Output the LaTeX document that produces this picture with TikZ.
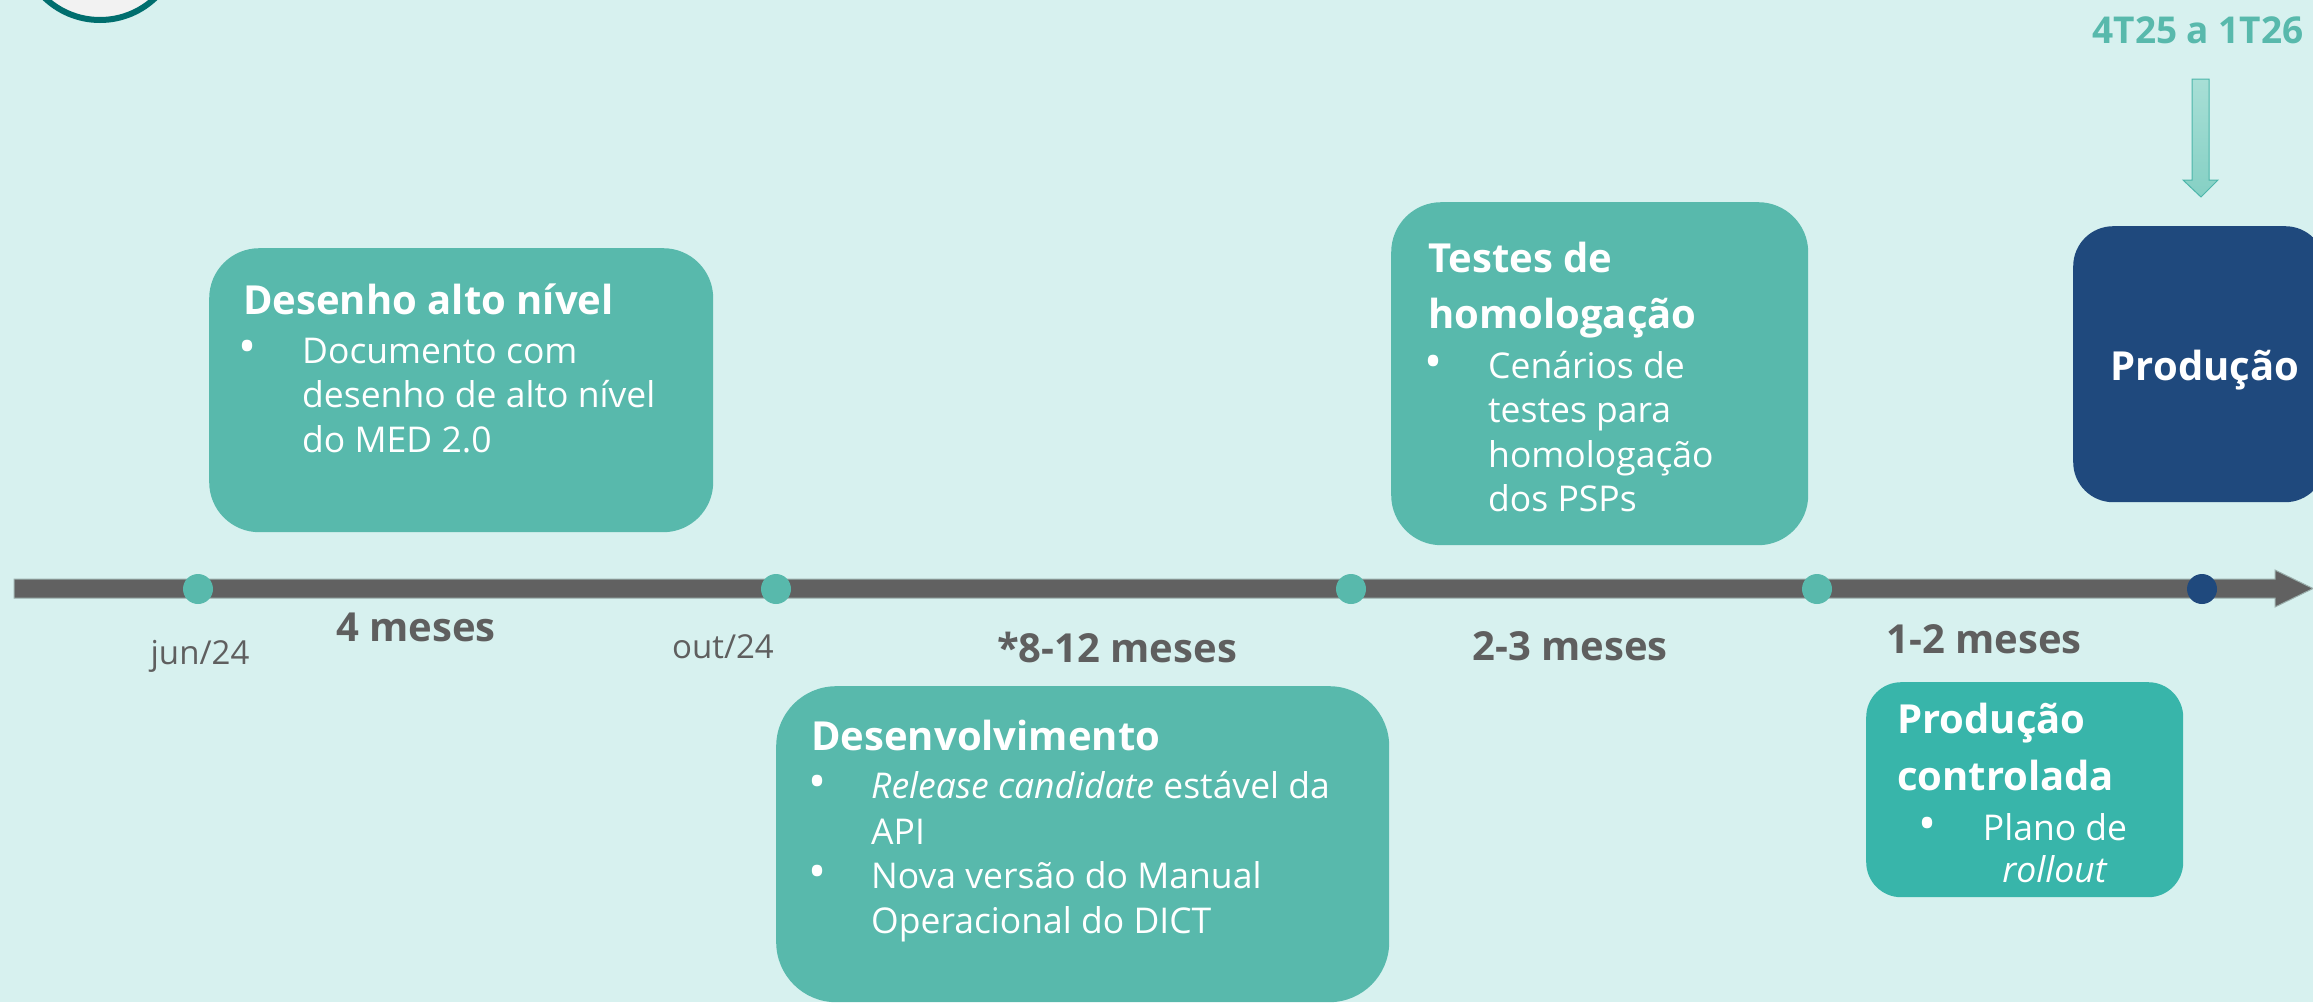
\documentclass[tikz,border=0pt]{standalone}
\usepackage{graphicx}
\usepackage{fontspec}
\setmainfont{Open Sans}
\definecolor{bgc}{HTML}{D7F1EF}
\definecolor{tealbox}{HTML}{58B9AC}
\definecolor{tealdark}{HTML}{38B5AA}
\definecolor{navy}{HTML}{1F497D}
\definecolor{graytxt}{HTML}{5F5F5F}
\definecolor{barc}{HTML}{616161}
\definecolor{baredge}{HTML}{9AAFAC}
\definecolor{ringc}{HTML}{006E6E}
\definecolor{ringfill}{HTML}{F2F2F2}
\definecolor{arrtop}{HTML}{A8DFD6}
\definecolor{arrbot}{HTML}{85D0C4}
\definecolor{arredge}{HTML}{4DB6AA}
\newcommand{\bigbul}{\scalebox{1.35}{•}}
\begin{document}
\begin{tikzpicture}[x=1pt,y=-1pt,
  box/.style={rounded corners=#1, inner sep=0pt, anchor=north west, draw=none},
  ttl/.style={anchor=base west, inner sep=0pt, text=white, font=\fontsize{40}{48}\selectfont\bfseries},
  bodytxt/.style={anchor=base west, inner sep=0pt, text=white, font=\fontsize{35.5}{44}\selectfont},
  bul/.style={anchor=base, inner sep=0pt, text=white, font=\fontsize{35.5}{44}\selectfont},
  dur/.style={anchor=base, inner sep=0pt, text=graytxt, font=\fontsize{40}{48}\selectfont\bfseries},
  datelbl/.style={anchor=base, inner sep=0pt, text=graytxt, font=\fontsize{33}{40}\selectfont},
  dot/.style={circle, inner sep=0pt, minimum size=30pt, fill=#1}]
\useasboundingbox (0,0) rectangle (2313,1002);
\fill[bgc] (0,0) rectangle (2313,1002);
\clip (0,0) rectangle (2313,1002);

% top-left ring
\draw[line width=6pt, draw=ringc, fill=ringfill] (100,-60) circle (80pt);

% timeline arrow
\fill[barc, draw=baredge, line width=1pt] (14,579) -- (2275,579) -- (2275,570) -- (2313,588.5) -- (2275,607) -- (2275,598) -- (14,598) -- cycle;

% dots
\node[dot=tealbox] (d1) at (198,589) {};
\node[dot=tealbox] (d2) at (776,589) {};
\node[dot=tealbox] (d3) at (1351,589) {};
\node[dot=tealbox] (d4) at (1817,589) {};
\node[dot=navy] (d5) at (2202,589) {};

% date labels
\node[datelbl] (jun) at (200,664) {jun/24};
\node[datelbl] (out) at (723,658) {out/24};

% durations
\node[dur] (m1) at (416,641) {4 meses};
\node[dur] (m2) at (1117,662) {*8-12 meses};
\node[dur] (m3) at (1570,660) {2-3 meses};
\node[dur] (m4) at (1984,653) {1-2 meses};

% Box 1
\node[box=50, fill=tealbox, minimum width=504pt, minimum height=284pt] (b1) at (209,248) {};
\node[ttl] (b1t) at (243,314) {Desenho alto nível};
\node[bul] (b1b) at (248,363) {\bigbul};
\node[bodytxt] (b1l1) at (302,363) {Documento com};
\node[bodytxt] (b1l2) at (302,407) {desenho de alto nível};
\node[bodytxt] (b1l3) at (302,452) {do MED 2.0};

% Box 2 Desenvolvimento
\node[box=60, fill=tealbox, minimum width=613pt, minimum height=316pt] (b2) at (776,686) {};
\node[ttl] (b2t) at (811,750) {Desenvolvimento};
\node[bul] (b2b1) at (817,798) {\bigbul};
\node[bodytxt] (b2l1) at (871,798) {\textit{Release candidate} estável da};
\node[bodytxt] (b2l2) at (871,844) {API};
\node[bul] (b2b2) at (817,888) {\bigbul};
\node[bodytxt] (b2l3) at (871,888) {Nova versão do Manual};
\node[bodytxt] (b2l4) at (871,933) {Operacional do DICT};

% Box 3 Testes
\node[box=50, fill=tealbox, minimum width=417pt, minimum height=343pt] (b3) at (1391,202) {};
\node[ttl] (b3t1) at (1428,272) {Testes de};
\node[ttl] (b3t2) at (1428,328) {homologação};
\node[bul] (b3b) at (1433,378) {\bigbul};
\node[bodytxt] (b3l1) at (1488,378) {Cenários de};
\node[bodytxt] (b3l2) at (1488,422) {testes para};
\node[bodytxt] (b3l3) at (1488,467) {homologação};
\node[bodytxt] (b3l4) at (1488,511) {dos PSPs};

% Box 4 Produção controlada
\node[box=35, fill=tealdark, minimum width=317pt, minimum height=215pt] (b4) at (1866,682) {};
\node[ttl] (b4t1) at (1897,733) {Produção};
\node[ttl] (b4t2) at (1897,790) {controlada};
\node[bul] (b4b) at (1927,840) {\bigbul};
\node[bul] (b4l1) at (2055,840) {Plano de};
\node[bul] (b4l2) at (2055,882) {\textit{rollout}};

% Box 5 Produção
\node[box=40, fill=navy, minimum width=252pt, minimum height=276pt] (b5) at (2073,226) {};
\node[ttl, anchor=base] (b5t) at (2205,380) {Produção};

% top label and down arrow
\node[anchor=base, inner sep=0pt, text=tealbox, font=\fontsize{37}{44}\selectfont\bfseries] (q) at (2198,43) {4T25 a 1T26};
\shade[top color=arrtop, bottom color=arrbot, draw=arredge, line width=1pt]
  (2192,79) -- (2209,79) -- (2209,180) -- (2218,180) -- (2201,197) -- (2183,180) -- (2192,180) -- cycle;
\end{tikzpicture}
\end{document}
